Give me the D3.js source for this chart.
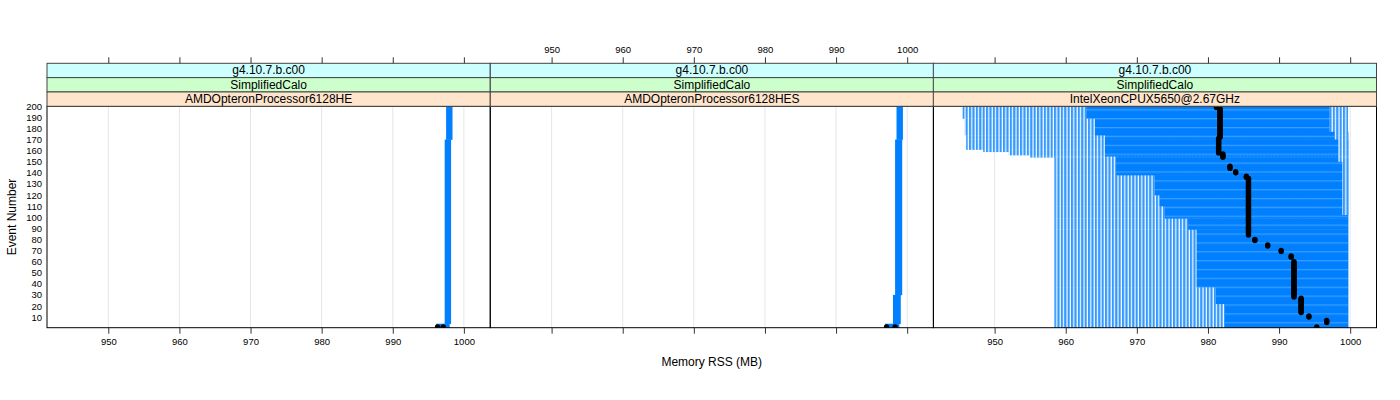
<!DOCTYPE html>
<html>
<head>
<meta charset="utf-8">
<script src="https://cdn.jsdelivr.net/npm/d3@7"></script>
<style>
  html, body { margin: 0; padding: 0; background: #ffffff; }
  svg { display: block; font-family: "Liberation Sans", Arial, Helvetica, sans-serif; }
</style>
</head>
<body>
<svg id="chart" width="1400" height="400"></svg>
<script>
// ---------------- data ----------------
const stripVersion = ["g4.10.7.b.c00", "g4.10.7.b.c00", "g4.10.7.b.c00"];
const stripPhysics = ["SimplifiedCalo", "SimplifiedCalo", "SimplifiedCalo"];
const stripCpu = ["AMDOpteronProcessor6128HE", "AMDOpteronProcessor6128HES", "IntelXeonCPUX5650@2.67GHz"];

const xTicks = [950, 960, 970, 980, 990, 1000];
const yTicks = [10, 20, 30, 40, 50, 60, 70, 80, 90, 100, 110, 120, 130, 140, 150, 160, 170, 180, 190, 200];

const xTitle = "Memory RSS (MB)";
const yTitle = "Event Number";

// panel 1 & 2: dense band of memory values per event range [eventLo, eventHi, memLo, memHi]
const panel1Bands = [
  [170, 200, 997.5, 998.4],
  [4, 170, 997.3, 998.2],
  [0.4, 4, 996.1, 998.0]
];
const panel2Bands = [
  [170, 200, 998.5, 999.4],
  [30, 170, 998.3, 999.3],
  [4, 30, 998.0, 999.1],
  [0.4, 4, 996.9, 998.9]
];
// panel 3: [eventLo, eventHi, sparseLo, denseLo, denseHi, sparseHi]
const panel3Bands = [
  [189, 200, 945.5, 962.9, 997.1, 999.7],
  [177, 189, 945.8, 964.1, 997.1, 999.7],
  [174, 177, 945.8, 964.1, 997.8, 999.8],
  [170, 174, 946.0, 965.5, 997.8, 999.8],
  [161, 170, 946.0, 965.5, 998.3, 999.85],
  [159, 161, 948.4, 965.5, 998.3, 999.85],
  [156, 159, 952.0, 965.5, 998.3, 999.85],
  [155, 156, 955.0, 965.5, 998.3, 999.85],
  [154, 155, 955.0, 967.1, 998.3, 999.85],
  [150, 154, 958.4, 967.1, 998.3, 999.85],
  [138, 150, 958.4, 967.1, 998.9, 999.85],
  [120, 138, 958.4, 972.5, 998.9, 999.85],
  [110, 120, 958.4, 973.2, 998.9, 999.85],
  [102, 110, 958.4, 973.9, 998.9, 999.85],
  [99, 102, 958.4, 973.9, 999.7, 999.8],
  [89, 99, 958.4, 977.2, 999.7, 999.8],
  [37, 89, 958.4, 978.4, 999.7, 999.8],
  [22, 37, 958.4, 981.1, 999.7, 999.8],
  [0.4, 22, 958.4, 982.4, 999.7, 999.8]
];

// black reference points, run-length: [eventFrom, eventTo, memory]
const panel1Ref = [[1, 1, 996.3], [1, 1, 997.1]];
const panel2Ref = [[1, 1, 997.1], [1, 1, 998.3]];
const panel3Ref = [
  [199, 200, 981.2], [172, 198, 981.7], [158, 171, 981.5], [154, 157, 982.1],
  [144, 146, 983.1], [140, 141, 983.9], [136, 137, 985.4], [84, 135, 985.7],
  [79, 80, 986.6], [74, 75, 988.4], [69, 70, 990.3], [64, 65, 991.7],
  [28, 60, 992.1], [14, 27, 993.1], [10, 11, 994.2], [5, 7, 996.7], [1, 1, 995.3]
];

// ---------------- layout ----------------
const svg = d3.select("#chart");
const panelX = [47, 490.3, 933.3];
const panelW = 443.2;
const plotTop = 106.3, plotBottom = 327.7;
const stripTop = 63.3, stripH = 14.33;
const xDomain = [941.38, 1003.70];
const y = d3.scaleLinear().domain([0.4, 200]).range([plotBottom, plotTop]);
const blue = "#0080ff";

const defs = svg.append("defs");
// sparse-region texture (vertical stripes)
const ps = defs.append("pattern").attr("id", "sparse").attr("patternUnits", "userSpaceOnUse")
  .attr("width", 3.4).attr("height", 10);
ps.append("rect").attr("width", 3.4).attr("height", 10).attr("fill", "#ffffff");
ps.append("rect").attr("x", 0).attr("width", 2.2).attr("height", 10).attr("fill", "#3398ff");
// dense-region texture (light horizontal lines)
const pd = defs.append("pattern").attr("id", "dense").attr("patternUnits", "userSpaceOnUse")
  .attr("width", 10).attr("height", 8.87).attr("y", plotTop);
pd.append("rect").attr("width", 10).attr("height", 8.87).attr("fill", blue);
pd.append("rect").attr("y", 3).attr("width", 10).attr("height", 1.2).attr("fill", "#3d9eff");

const panels = [
  { bands: panel1Bands, ref: panel1Ref, type: "simple" },
  { bands: panel2Bands, ref: panel2Ref, type: "simple" },
  { bands: panel3Bands, ref: panel3Ref, type: "full" }
];

panels.forEach((p, i) => {
  const x0 = panelX[i];
  const x = d3.scaleLinear().domain(xDomain).range([x0, x0 + panelW]);
  const clipId = "clip" + i;
  defs.append("clipPath").attr("id", clipId).append("rect")
    .attr("x", x0).attr("y", plotTop).attr("width", panelW).attr("height", plotBottom - plotTop);

  // grid
  svg.append("g").selectAll("line").data(xTicks).join("line")
    .attr("x1", d => x(d)).attr("x2", d => x(d))
    .attr("y1", plotTop).attr("y2", plotBottom)
    .attr("stroke", "#e6e6e6").attr("stroke-width", 1);

  const g = svg.append("g").attr("clip-path", `url(#${clipId})`);
  if (p.type === "simple") {
    g.selectAll("rect.band").data(p.bands).join("rect")
      .attr("x", d => x(d[2])).attr("width", d => x(d[3]) - x(d[2]))
      .attr("y", d => y(d[1])).attr("height", d => y(d[0]) - y(d[1]) + 0.3)
      .attr("fill", blue);
  } else {
    g.selectAll("rect.sparse").data(p.bands).join("rect")
      .attr("x", d => x(d[2])).attr("width", d => x(d[5]) - x(d[2]))
      .attr("y", d => y(d[1])).attr("height", d => y(d[0]) - y(d[1]) + 0.3)
      .attr("fill", "url(#sparse)");
    g.append("g").selectAll("rect").data(p.bands).join("rect")
      .attr("x", d => x(d[3])).attr("width", d => x(d[4]) - x(d[3]))
      .attr("y", d => y(d[1])).attr("height", d => y(d[0]) - y(d[1]) + 0.3)
      .attr("fill", "url(#dense)");
  }
  // black reference points (one per event)
  const pts = [];
  p.ref.forEach(r => { for (let e = r[0]; e <= r[1]; e++) pts.push([e, r[2]]); });
  g.append("g").selectAll("circle").data(pts).join("circle")
    .attr("cx", d => x(d[1])).attr("cy", d => y(d[0])).attr("r", 2.7).attr("fill", "#000");

  // panel border
  svg.append("rect").attr("x", x0).attr("y", plotTop).attr("width", panelW)
    .attr("height", plotBottom - plotTop).attr("fill", "none").attr("stroke", "#000").attr("stroke-width", 1);

  // strips
  const strips = [
    { t: stripVersion[i], c: "#ccffff" },
    { t: stripPhysics[i], c: "#ccffcc" },
    { t: stripCpu[i], c: "#ffe5cc" }
  ];
  strips.forEach((s, k) => {
    const sy = stripTop + k * stripH;
    svg.append("rect").attr("x", x0).attr("y", sy).attr("width", panelW).attr("height", stripH)
      .attr("fill", s.c).attr("stroke", "#444").attr("stroke-width", 1);
    svg.append("text").attr("x", x0 + panelW / 2).attr("y", sy + stripH / 2 + 4)
      .attr("text-anchor", "middle").attr("font-size", 12).attr("fill", "#000").text(s.t);
  });

  // axes: bottom ticks for all, labels on panels 1 and 3; top ticks all, labels on panel 2
  const bottomAxis = d3.axisBottom(x).tickValues(xTicks).tickSize(6).tickPadding(5)
    .tickFormat(i === 1 ? "" : d3.format("d"));
  const ba = svg.append("g").attr("transform", `translate(0,${plotBottom})`).call(bottomAxis);
  const topAxis = d3.axisTop(x).tickValues(xTicks).tickSize(6).tickPadding(4)
    .tickFormat(i === 1 ? d3.format("d") : "");
  const ta = svg.append("g").attr("transform", `translate(0,${stripTop})`).call(topAxis);
  [ba, ta].forEach(a => {
    a.select(".domain").remove();
    a.selectAll(".tick line").attr("stroke", "#333");
    a.selectAll("text").attr("font-size", 9.5).attr("fill", "#000")
      .attr("font-family", "'Liberation Sans', Arial, sans-serif");
  });
});

// y axis labels on the left
const ya = svg.append("g").attr("transform", `translate(${panelX[0]},0)`)
  .call(d3.axisLeft(y).tickValues(yTicks).tickSize(0).tickPadding(5).tickFormat(d3.format("d")));
ya.select(".domain").remove();
ya.selectAll("text").attr("font-size", 9.5).attr("fill", "#000")
  .attr("font-family", "'Liberation Sans', Arial, sans-serif");

// titles
svg.append("text").attr("x", (panelX[0] + panelX[2] + panelW) / 2).attr("y", 366)
  .attr("text-anchor", "middle").attr("font-size", 12).text(xTitle);
svg.append("text").attr("transform", `translate(16,${(plotTop + plotBottom) / 2}) rotate(-90)`)
  .attr("text-anchor", "middle").attr("font-size", 12).text(yTitle);
</script>
</body>
</html>
